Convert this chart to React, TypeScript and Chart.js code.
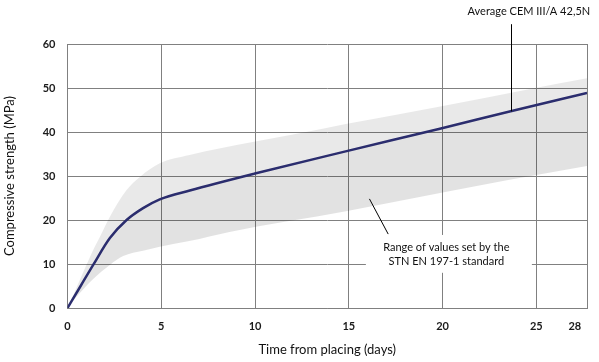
import React, { useEffect, useRef } from 'react';
import { Chart, registerables } from 'chart.js';

Chart.register(...registerables);

// Mean curve (CEM III/A 42,5N)
const meanDays = [0, 0.7, 1.37, 2.26, 3.15, 4.03, 4.92, 6.52, 9.94, 14.83, 19.8, 23.63, 27.7];
const meanValues = [0, 5.0, 9.8, 15.9, 20.0, 22.7, 24.7, 26.7, 30.5, 35.6, 40.7, 44.7, 48.9];

// Upper edge of STN EN 197-1 range
const upperDays = [0, 0.13, 0.66, 1.37, 1.73, 2.26, 3.15, 3.86, 4.92, 6.5, 9.94, 12.37, 14.83, 19.8, 24.8, 27.7];
const upperValues = [0, 1.1, 6.4, 13.2, 16.2, 20.75, 26.8, 29.8, 32.9, 34.8, 37.8, 39.7, 41.8, 45.75, 49.9, 52.2];

// Lower edge of STN EN 197-1 range
const lowerDays = [0, 0.49, 1.37, 2.26, 2.97, 4.03, 4.92, 6.5, 8.64, 14.85, 17.2, 23.5, 27.7];
const lowerValues = [0, 2.6, 6.6, 9.8, 11.8, 13.0, 13.9, 15.2, 17.3, 22.0, 23.9, 29.1, 32.3];

// Axis ticks
const xTickValues = [0, 5, 10, 15, 20, 25, 27.05];
const xTickLabels = ['0', '5', '10', '15', '20', '25', '28'];
const xMax = 27.7;
const yTickStep = 10;
const yMax = 60;

const FONT = 'Lato, "Open Sans", sans-serif';
const GRID = '#808080';

const toPoints = (xs: number[], ys: number[]) => xs.map((d, i) => ({ x: d, y: ys[i] }));

const notesPlugin = {
  id: 'notes',
  afterDraw(chart: any) {
    const { ctx, scales } = chart;
    const x = scales.x;
    const y = scales.y;
    const px = (d: number) => x.getPixelForValue(d);
    const py = (v: number) => y.getPixelForValue(v);
    ctx.save();
    // Average label and leader
    ctx.strokeStyle = '#000';
    ctx.lineWidth = 1;
    ctx.beginPath();
    ctx.moveTo(Math.round(px(23.63)) + 0.5, py(64.5));
    ctx.lineTo(Math.round(px(23.63)) + 0.5, py(44.7));
    ctx.stroke();
    ctx.fillStyle = '#111';
    ctx.font = `11px ${FONT}`;
    ctx.textAlign = 'center';
    ctx.textBaseline = 'middle';
    ctx.fillText('Average CEM III/A 42,5N', px(24.6), py(67.5));

    // Range label with white box
    ctx.fillStyle = '#ffffff';
    const bx0 = px(15.91), bx1 = px(24.76);
    const by0 = py(16.6), by1 = py(8.0);
    ctx.fillRect(bx0, by0, bx1 - bx0, by1 - by0);
    ctx.beginPath();
    ctx.moveTo(px(16.1), py(24.8));
    ctx.lineTo(px(17.1), py(16.8));
    ctx.stroke();
    ctx.fillStyle = '#111';
    ctx.fillText('Range of values set by the', px(20.2), py(13.7));
    ctx.fillText('STN EN 197-1 standard', px(20.2), py(10.5));
    ctx.restore();
  },
};

export default function App() {
  const ref = useRef<HTMLCanvasElement>(null);
  useEffect(() => {
    document.body.style.margin = '0';
    const chart = new Chart(ref.current!, {
      type: 'line',
      data: {
        datasets: [
          {
            label: 'Average CEM III/A 42,5N',
            data: toPoints(meanDays, meanValues),
            borderColor: '#2b2d6e',
            borderWidth: 2.5,
            pointRadius: 0,
            cubicInterpolationMode: 'monotone',
            fill: false,
            order: 0,
          },
          {
            label: 'upper',
            data: toPoints(upperDays, upperValues),
            borderWidth: 0,
            borderColor: 'rgba(0,0,0,0)',
            backgroundColor: 'rgba(0,0,0,0.085)',
            pointRadius: 0,
            cubicInterpolationMode: 'monotone',
            fill: { target: 0 },
            order: 2,
          },
          {
            label: 'lower',
            data: toPoints(lowerDays, lowerValues),
            borderWidth: 0,
            borderColor: 'rgba(0,0,0,0)',
            backgroundColor: 'rgba(0,0,0,0.115)',
            pointRadius: 0,
            cubicInterpolationMode: 'monotone',
            fill: { target: 0 },
            order: 1,
          },
        ],
      },
      options: {
        animation: false,
        responsive: false,
        layout: { padding: { top: 44, right: 11, left: 0, bottom: 0 } },
        plugins: { legend: { display: false }, tooltip: { enabled: false } },
        scales: {
          x: {
            type: 'linear',
            min: 0,
            max: xMax,
            afterBuildTicks: (s: any) => {
              s.ticks = [...xTickValues, xMax].map((v) => ({ value: v }));
            },
            afterFit: (s: any) => {
              s.height = 54;
            },
            grid: {
              color: (c: any) => (c.tick && c.tick.value === 27.05 ? 'rgba(0,0,0,0)' : GRID),
              drawTicks: false,
              lineWidth: 1,
            },
            border: { color: GRID },
            ticks: {
              padding: 12,
              autoSkip: false,
              maxRotation: 0,
              color: '#1a1a1a',
              font: { family: FONT, size: 11, weight: 'bold' },
              callback: (v: any) => {
                const i = xTickValues.indexOf(Number(v));
                return i >= 0 ? xTickLabels[i] : '';
              },
            },
            title: {
              display: true,
              text: 'Time from placing (days)',
              color: '#111',
              font: { family: FONT, size: 13 },
              padding: { top: 0, bottom: 4 },
            },
          },
          y: {
            min: 0,
            max: yMax,
            afterFit: (s: any) => {
              s.width = 67.5;
            },
            grid: { color: GRID, drawTicks: false, lineWidth: 1 },
            border: { color: GRID },
            ticks: {
              stepSize: yTickStep,
              padding: 12,
              color: '#1a1a1a',
              font: { family: FONT, size: 11, weight: 'bold' },
            },
            title: {
              display: true,
              text: 'Compressive strength (MPa)',
              color: '#111',
              font: { family: FONT, size: 13 },
              padding: { top: 2, bottom: 0 },
            },
          },
        },
      },
      plugins: [notesPlugin],
    } as any);
    return () => chart.destroy();
  }, []);
  return (
    <div style={{ width: 599, height: 362 }}>
      <canvas ref={ref} width={599} height={362} style={{ display: 'block' }} />
    </div>
  );
}
